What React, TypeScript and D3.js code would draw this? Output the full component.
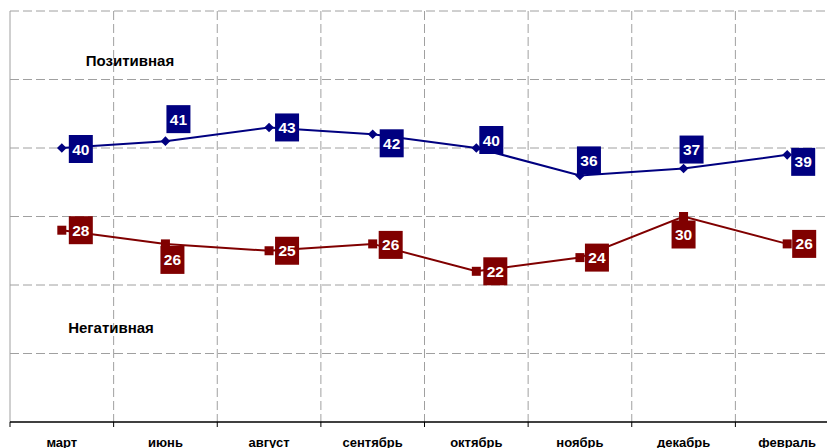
import React from "react";
import * as d3 from "d3";

const WIDTH = 827;
const HEIGHT = 448;

const months = ["март", "июнь", "август", "сентябрь", "октябрь", "ноябрь", "декабрь", "февраль"];
const positive = [40, 41, 43, 42, 40, 36, 37, 39];
const negative = [28, 26, 25, 26, 22, 24, 30, 26];
const yTicks = [10, 20, 30, 40, 50, 60];

// label box offsets from each point (layout only)
const posLabelOffset: [number, number][] = [
  [19, 1], [13, -22], [18, 0], [19, 9], [15, -8], [9, -15], [8, -19], [16, 7],
];
const negLabelOffset: [number, number][] = [
  [19, 0], [7, 16], [18, 0], [18, 1], [19, 0], [17, 0], [0, 18], [17, 0],
];

const BLUE = "#000080";
const RED = "#800000";
const GRID = "#a0a0a0";

export default function App() {
  const x = d3.scaleBand<string>().domain(months).range([10, 839]).padding(0);
  const y = d3.scaleLinear().domain([0, 60]).range([422, 11]);
  const cx = (m: string) => (x(m) ?? 0) + x.bandwidth() / 2;

  const line = d3
    .line<number>()
    .x((_, i) => cx(months[i]))
    .y((d) => y(d));

  const diamond = "M0,-4.8L4.8,0L0,4.8L-4.8,0Z";

  const labelBox = (v: number, px: number, py: number, fill: string, key: string) => (
    <g key={key} transform={`translate(${px},${py})`}>
      <rect x={-12} y={-14} width={24} height={28} fill={fill} />
      <text
        textAnchor="middle"
        dy="0.36em"
        fill="#fff"
        fontSize={15.5}
        fontWeight="bold"
        fontFamily="Liberation Sans, Arial, sans-serif"
      >
        {v}
      </text>
    </g>
  );

  return (
    <svg
      width={WIDTH}
      height={HEIGHT}
      style={{ position: "absolute", left: 0, top: 0, background: "#fff" }}
      fontFamily="Liberation Sans, Arial, sans-serif"
    >
      {/* horizontal grid */}
      {yTicks.map((t) => (
        <line key={"h" + t} x1={10} x2={WIDTH} y1={y(t)} y2={y(t)} stroke={GRID} strokeDasharray="9,4" />
      ))}
      {/* vertical grid */}
      {months.slice(1).map((m) => (
        <line key={"v" + m} x1={x(m)} x2={x(m)} y1={y(60)} y2={y(0)} stroke={GRID} strokeDasharray="9,4" />
      ))}
      {/* left axis */}
      <line x1={10} x2={10} y1={y(60)} y2={y(0)} stroke={GRID} />
      {/* bottom axis */}
      <line x1={10} x2={WIDTH} y1={y(0)} y2={y(0)} stroke="#000" strokeWidth={1.5} />
      {months.map((m) => (
        <line key={"t" + m} x1={x(m)} x2={x(m)} y1={y(0)} y2={y(0) + 5} stroke="#000" />
      ))}
      {months.map((m) => (
        <text key={"l" + m} x={cx(m)} y={447} textAnchor="middle" fontSize={13} fontWeight="bold" fill="#000">
          {m}
        </text>
      ))}

      {/* series */}
      <path d={line(positive) || ""} fill="none" stroke={BLUE} strokeWidth={2} />
      <path d={line(negative) || ""} fill="none" stroke={RED} strokeWidth={2} />
      {positive.map((v, i) => (
        <path key={"pd" + i} d={diamond} transform={`translate(${cx(months[i])},${y(v)})`} fill={BLUE} />
      ))}
      {negative.map((v, i) => (
        <rect key={"ns" + i} x={cx(months[i]) - 4.5} y={y(v) - 4.5} width={9} height={9} fill={RED} />
      ))}
      {positive.map((v, i) =>
        labelBox(v, cx(months[i]) + posLabelOffset[i][0], y(v) + posLabelOffset[i][1], BLUE, "pl" + i)
      )}
      {negative.map((v, i) =>
        labelBox(v, cx(months[i]) + negLabelOffset[i][0], y(v) + negLabelOffset[i][1], RED, "nl" + i)
      )}

      <text x={130} y={66} textAnchor="middle" fontSize={15} fontWeight="bold" fill="#000">
        Позитивная
      </text>
      <text x={111} y={333} textAnchor="middle" fontSize={15} fontWeight="bold" fill="#000">
        Негативная
      </text>
    </svg>
  );
}
